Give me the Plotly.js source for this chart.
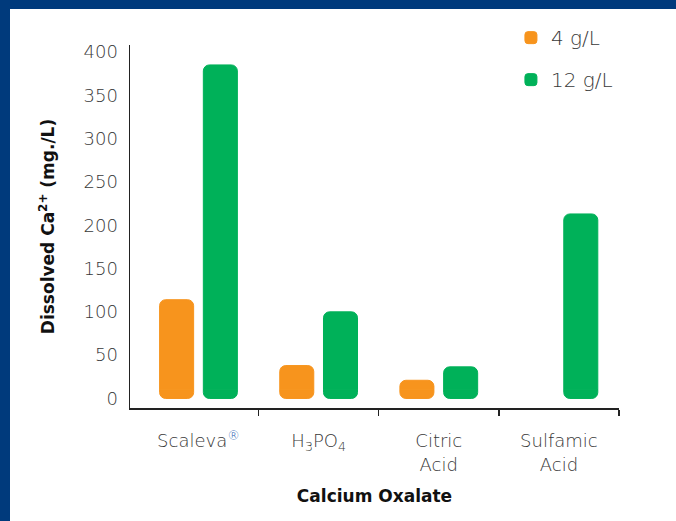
<!DOCTYPE html>
<html>
<head>
<meta charset="utf-8">
<script src="https://cdn.plot.ly/plotly-3.0.1.min.js"></script>
<style>
  html, body { margin: 0; padding: 0; background: #ffffff; }
  #wrap { position: relative; width: 676px; height: 521px; overflow: hidden; }
  #chart { position: absolute; left: 0; top: 0; width: 676px; height: 521px; }
  .frame { position: absolute; background: #003a7c; pointer-events: none; }
</style>
</head>
<body>
<div id="wrap">
  <div id="chart"></div>
  <div class="frame" style="left:0;top:0;width:676px;height:9px;"></div>
  <div class="frame" style="left:0;top:0;width:10px;height:521px;"></div>
</div>
<script>
// ---- data ----
const categories = ['Scaleva', 'H3PO4', 'Citric Acid', 'Sulfamic Acid'];
const tickLabels = [
  'Scaleva<span style="color:#2a62b3"><sup>®</sup></span>',
  'H<sub>3</sub>PO<sub>4</sub>',
  'Citric<br>Acid',
  'Sulfamic<br>Acid'
];
const seriesNames = ['4 g/L', '12 g/L'];
const values4 = [114, 38, 21, 0];
const values12 = [385, 100, 36.5, 213];
const seriesColors = ['#F7941D', '#00B159'];
const yTicks = [0, 50, 100, 150, 200, 250, 300, 350, 400];

// category positions on the x scale and the boundaries between them
const catPos = categories.map(function (c, i) { return i; });
const catBounds = categories.map(function (c, i) { return i + 0.5; });

// ---- rounded bars on both ends ----
// The axis zero is lifted by FOOT units (tick labels are relabelled), so each bar is
// a positive bar (rounded top) plus a short negative "foot" bar (rounded bottom).
const FOOT = 10;
const allSeries = [values4, values12];
const traces = [];
allSeries.forEach(function (vals, i) {
  const common = {
    type: 'bar',
    x: catPos,
    customdata: categories,
    offsetgroup: 'g' + i,
    legendgroup: 'g' + i,
    name: seriesNames[i],
    marker: { color: seriesColors[i], cornerradius: 6, line: { width: 1, color: seriesColors[i] } },
    hoverinfo: 'skip'
  };
  traces.push(Object.assign({}, common, {
    y: vals.map(function (v) { return v > 0 ? v - FOOT : null; }),
    showlegend: true
  }));
  traces.push(Object.assign({}, common, {
    y: vals.map(function (v) { return v > 0 ? -FOOT : null; }),
    showlegend: false
  }));
});

const tickFont = { family: '"DejaVu Sans", sans-serif', size: 18, color: '#383838', weight: 300 };
const titleFont = { family: '"DejaVu Sans", sans-serif', size: 17, color: '#111111', weight: 'bold' };

const layout = {
  width: 676,
  height: 521,
  margin: { l: 130, r: 57, t: 45, b: 113, pad: 0 },
  paper_bgcolor: '#ffffff',
  plot_bgcolor: '#ffffff',
  barmode: 'group',
  bargap: 0.272,
  bargroupgap: 0.222,
  showlegend: true,
  legend: {
    x: 0.779, xanchor: 'left',
    y: 1.074, yanchor: 'top',
    font: { family: '"DejaVu Sans", sans-serif', size: 20, color: '#383838', weight: 300 },
    traceorder: 'grouped',
    tracegroupgap: 13,
    bgcolor: 'rgba(0,0,0,0)'
  },
  xaxis: {
    type: 'linear',
    range: [-0.57, 3.5],
    tickmode: 'array',
    tickvals: catPos,
    ticktext: tickLabels,
    ticks: '',
    minor: {
      tickmode: 'array',
      tickvals: catBounds,
      ticks: 'outside',
      ticklen: 6,
      tickwidth: 1.5,
      tickcolor: '#222222',
      showgrid: false
    },
    showline: true,
    linecolor: '#222222',
    linewidth: 1.5,
    showgrid: false,
    zeroline: false,
    tickfont: tickFont,
    ticklabelstandoff: 16,
    automargin: false,
    title: { text: 'Calcium Oxalate', font: titleFont, standoff: 16 }
  },
  yaxis: {
    range: [-11 - FOOT, 408 - FOOT],
    tickmode: 'array',
    tickvals: yTicks.map(function (t) { return t - FOOT; }),
    ticktext: yTicks.map(String),
    ticks: '',
    showline: true,
    linecolor: '#222222',
    linewidth: 1.5,
    showgrid: false,
    zeroline: false,
    tickfont: tickFont,
    ticklabelstandoff: 7,
    automargin: false,
    title: { text: 'Dissolved Ca<sup>2+</sup> (mg./L)', font: titleFont, standoff: 24 }
  }
};

Plotly.newPlot('chart', traces, layout, { displayModeBar: false, staticPlot: true });
</script>
</body>
</html>
